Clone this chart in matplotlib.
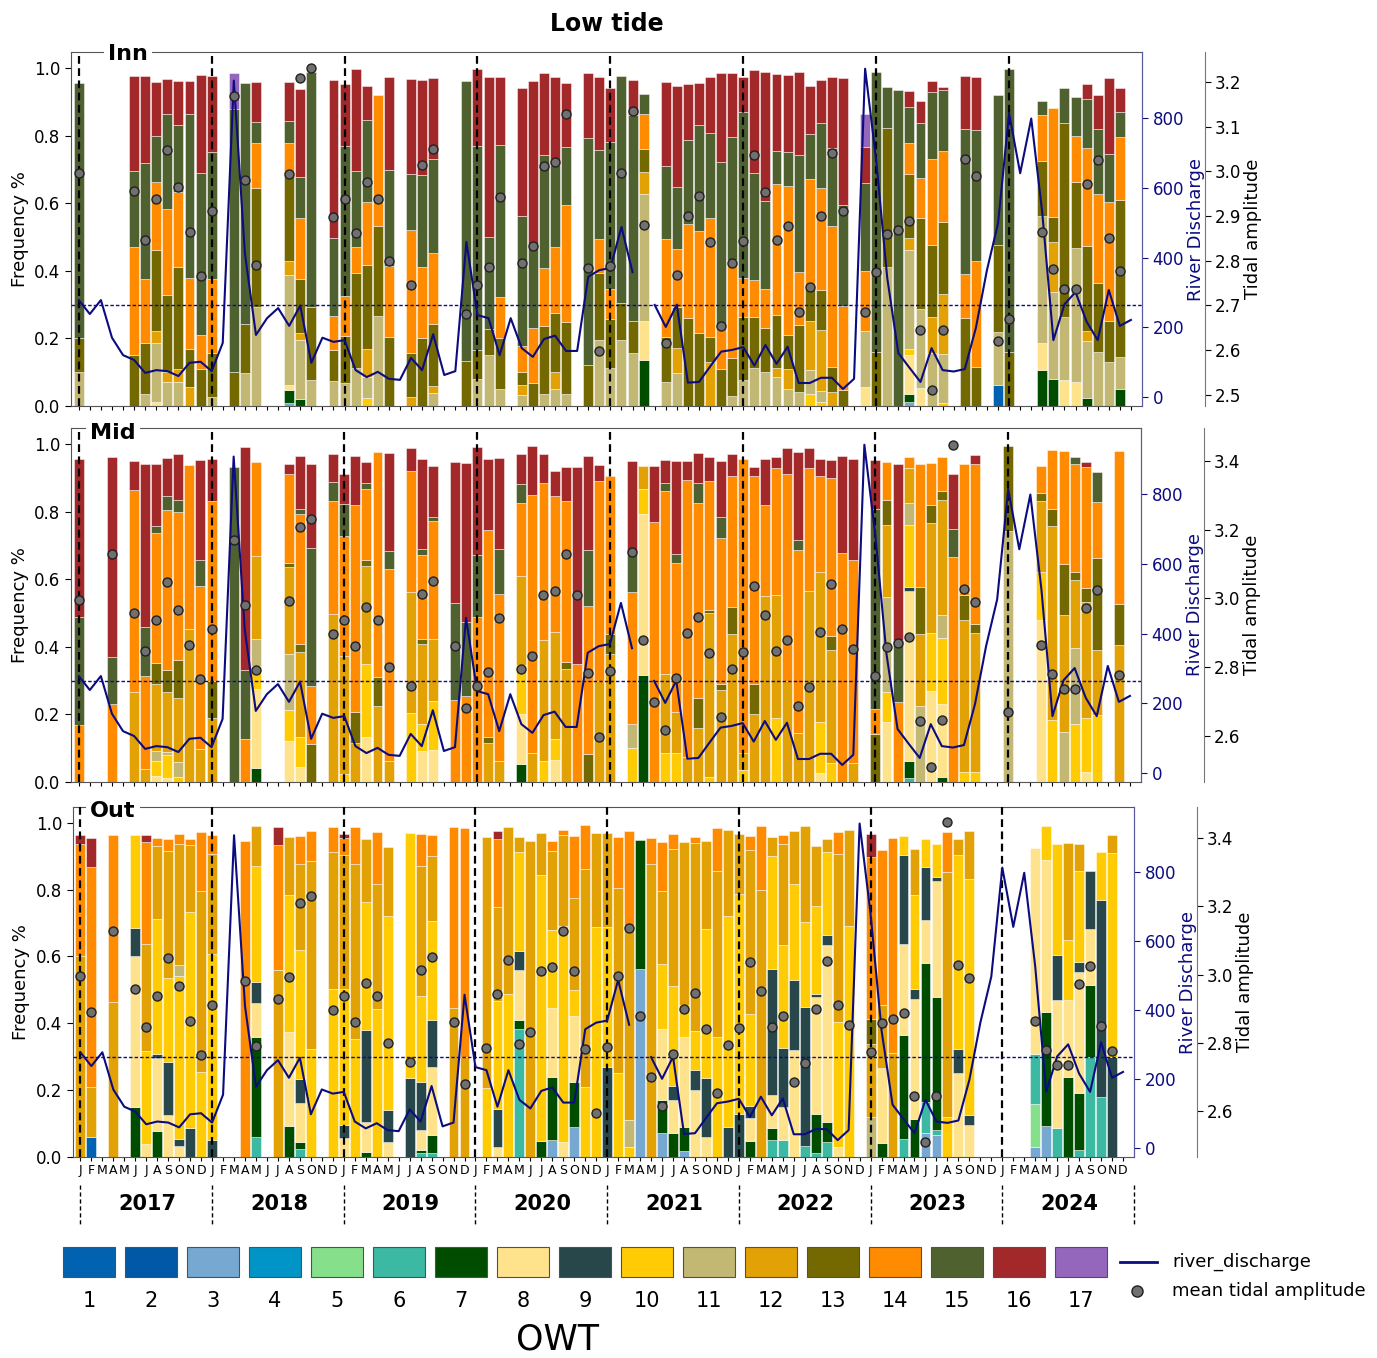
import matplotlib.pyplot as plt
import numpy as np
from matplotlib.patches import Rectangle
from matplotlib.lines import Line2D
from matplotlib.transforms import blended_transform_factory

# --- data -----------------------------------------------------------------
years = [2017, 2018, 2019, 2020, 2021, 2022, 2023, 2024]
month_letters = list('JFMAMJJASOND')
n_months = 96
owt_labels = [str(k) for k in range(1, 18)]
owt_colors = ['#0062B0', '#0058A6', '#76A8D2', '#0095C6', '#86E08B', '#3CB9A2',
              '#004D00', '#FFE38C', '#27474A', '#FFCB05', '#C2B773', '#E2A104',
              '#736900', '#FF8B00', '#506130', '#A3282A', '#9467BD']

nan = np.nan
river_discharge = [278, 238, 278, 170, 120, 106, 69, 77, 74, 60, 98, 101,
                   74, 155, 908, 412, 178, 226, 255, 204, 262, 98, 170, 158,
                   163, 77, 57, 72, 52, 49, 112, 77, 180, 63, 74, 445,
                   235, 226, 120, 226, 140, 115, 166, 176, 132, 132, 345, 364,
                   370, 488, 358, nan, 264, 201, 265, 41, 43, 87, 130, 135,
                   143, 90, 149, 95, 144, 40, 40, 55, 55, 23, 52, 942,
                   679, 341, 126, 84, 43, 140, 77, 73, 80, 198, 364, 498,
                   814, 642, 799, 527, 163, 266, 301, 216, 163, 307, 204, 221]

tidal_amplitude = [2.997, 2.892, nan, 3.129, nan, 2.957, 2.847, 2.938, 3.048, 2.966, 2.864, 2.765,
                   2.912, nan, 3.169, 2.981, 2.791, nan, 2.930, 2.994, 3.208, 3.231, nan, 2.897,
                   2.938, 2.862, 2.976, 2.938, 2.800, nan, 2.745, 3.014, 3.051, nan, 2.862, 2.680,
                   2.746, 2.786, 2.942, 3.042, 2.796, 2.833, 3.011, 3.021, 3.129, 3.010, 2.784, 2.597,
                   2.789, 2.996, 3.136, 2.880, 2.700, 2.617, 2.769, 2.899, 2.945, 2.841, 2.655, 2.795,
                   2.845, 3.037, 2.953, 2.847, 2.878, 2.686, 2.742, 2.901, 3.041, 2.912, 2.853, 2.685,
                   2.774, 2.859, 2.869, 2.888, 2.644, 2.511, 2.645, 3.447, 3.028, 2.990, nan, 2.621,
                   2.669, nan, nan, 2.865, 2.781, 2.736, 2.737, 2.972, 3.026, 2.850, 2.777, nan]

# month index -> {OWT class: frequency}
inn_owt = {
    0: {11: .10, 13: .10, 15: .755},
    5: {13: .15, 14: .32, 15: .225, 16: .28},
    6: {11: .035, 13: .15, 14: .19, 15: .345, 16: .256},
    7: {8: .013, 11: .174, 12: .035, 13: .238, 14: .202, 15: .138, 16: .157},
    8: {11: .072, 12: .03, 13: .225, 14: .257, 15: .279, 16: .105},
    9: {11: .07, 12: .04, 13: .30, 14: .224, 15: .197, 16: .131},
    10: {12: .057, 13: .111, 14: .212, 15: .484, 16: .098},
    11: {13: .108, 14: .102, 15: .48, 16: .289},
    12: {11: .028, 13: .128, 14: .219, 15: .377, 16: .225},
    14: {13: .10, 15: .779, 17: .105},
    15: {11: .097, 13: .146, 15: .712},
    16: {11: .294, 13: .35, 14: .135, 15: .06, 16: .12},
    19: {3: .008, 7: .04, 8: .015, 11: .323, 12: .042, 13: .256, 14: .094, 15: .066, 16: .113},
    20: {7: .02, 11: .175, 12: .022, 13: .158, 14: .18, 15: .121, 16: .262},
    21: {11: .077, 13: .217, 15: .693},
    23: {11: .075, 13: .091, 14: .101, 15: .229, 16: .469},
    24: {11: .069, 13: .139, 14: .117, 15: .444, 16: .184},
    25: {11: .111, 13: .282, 14: .076, 15: .226, 16: .301},
    26: {10: .025, 11: .06, 12: .085, 13: .248, 14: .184, 15: .244, 16: .10},
    27: {11: .266, 13: .267, 14: .387},
    28: {13: .205, 14: .209, 15: .284, 16: .276},
    30: {12: .028, 13: .128, 14: .364, 15: .166, 16: .28},
    31: {13: .20, 14: .21, 15: .273, 16: .28},
    32: {11: .037, 12: .023, 13: .183, 14: .209, 15: .278, 16: .239},
    35: {13: .134, 15: .826},
    36: {11: .079, 13: .087, 15: .603, 16: .227},
    37: {11: .151, 13: .076, 15: .272, 16: .475},
    38: {11: .05, 13: .15, 14: .122, 15: .45, 16: .202},
    40: {11: .033, 12: .029, 13: .04, 14: .074, 15: .387, 16: .379},
    41: {13: .067, 14: .163, 15: .241, 16: .491},
    42: {11: .035, 13: .202, 14: .17, 15: .336, 16: .243},
    43: {11: .05, 12: .05, 13: .174, 14: .195, 15: .244, 16: .261},
    44: {11: .035, 13: .212, 14: .348, 15: .172, 16: .188},
    46: {13: .121, 15: .671, 16: .192},
    47: {11: .195, 13: .197, 14: .102, 15: .263, 16: .217},
    48: {11: .111, 13: .145, 14: .089, 15: .437, 16: .158},
    49: {11: .195, 13: .109, 15: .672},
    50: {11: .158, 13: .092, 15: .611, 16: .104},
    51: {7: .136, 8: .114, 11: .377, 12: .064, 13: .069, 14: .104, 15: .059},
    53: {11: .072, 13: .133, 14: .288, 15: .218, 16: .247},
    54: {11: .097, 12: .074, 13: .123, 14: .17, 15: .185, 16: .296},
    55: {13: .259, 14: .278, 15: .25, 16: .165},
    56: {13: .215, 14: .303, 15: .313, 16: .125},
    57: {12: .13, 13: .075, 14: .35, 15: .253, 16: .164},
    58: {13: .108, 14: .126, 15: .488, 16: .263},
    59: {11: .03, 13: .111, 14: .291, 15: .363, 16: .189},
    60: {11: .077, 13: .187, 14: .114, 15: .493, 16: .103},
    61: {11: .111, 13: .151, 14: .111, 15: .317, 16: .304},
    62: {11: .102, 13: .128, 14: .115, 15: .26, 16: .384},
    63: {11: .085, 12: .026, 13: .158, 14: .387, 15: .099, 16: .227},
    64: {11: .05, 12: .06, 13: .10, 14: .44, 15: .10, 16: .23},
    65: {11: .042, 13: .197, 14: .158, 15: .345, 16: .245},
    66: {10: .035, 11: .071, 12: .146, 13: .096, 14: .322, 15: .133, 16: .144},
    67: {10: .013, 11: .03, 12: .182, 13: .118, 14: .301, 15: .194, 16: .126},
    68: {12: .042, 13: .072, 14: .418, 15: .23, 16: .212},
    69: {13: .047, 14: .25, 15: .297, 16: .375},
    71: {8: .057, 11: .166, 14: .177, 15: .259, 16: .108, 17: .097},
    72: {13: .159, 15: .83},
    73: {11: .412, 13: .409, 15: .122},
    74: {15: .935},
    75: {3: .013, 7: .022, 8: .116, 10: .018, 11: .291, 12: .036, 13: .189, 14: .092, 15: .107, 16: .049},
    76: {8: .052, 11: .234, 13: .269, 14: .119, 15: .164, 16: .064},
    77: {11: .156, 12: .108, 13: .212, 14: .256, 15: .197, 16: .033},
    78: {10: .008, 11: .146, 12: .177, 13: .214, 14: .21, 15: .18, 16: .008},
    80: {13: .26, 14: .13, 15: .43, 16: .155},
    81: {13: .114, 14: .316, 15: .385, 16: .157},
    83: {1: .062, 11: .158, 13: .256, 15: .444},
    84: {13: .159, 15: .837},
    87: {7: .105, 8: .081, 11: .375, 13: .163, 14: .138, 15: .041},
    88: {7: .08, 11: .258, 12: .148, 13: .074, 14: .32},
    89: {8: .077, 11: .187, 13: .572, 15: .104},
    90: {8: .072, 11: .394, 13: .197, 14: .136, 15: .115},
    91: {7: .023, 11: .168, 12: .03, 13: .251, 14: .291, 15: .146, 16: .044},
    92: {11: .161, 13: .204, 14: .262, 15: .191, 16: .102},
    93: {11: .131, 13: .121, 14: .35, 15: .142, 16: .225},
    94: {7: .05, 11: .096, 13: .463, 14: .187, 15: .074, 16: .072},
}

mid_owt = {
    0: {14: .168, 15: .32, 16: .467},
    3: {14: .23, 15: .14, 16: .59},
    5: {12: .266, 14: .597, 16: .085},
    6: {12: .037, 14: .276, 15: .145, 16: .482},
    7: {8: .018, 10: .045, 11: .029, 12: .199, 13: .061, 14: .383, 15: .023, 16: .182},
    8: {8: .011, 10: .069, 11: .01, 12: .177, 13: .064, 14: .474, 15: .042, 16: .111},
    9: {10: .016, 11: .044, 12: .187, 13: .113, 14: .44, 15: .033, 16: .138},
    10: {12: .453, 14: .485},
    11: {12: .099, 14: .48, 15: .078, 16: .295},
    12: {12: .19, 13: .108, 14: .532, 16: .124},
    14: {15: .932},
    15: {14: .126, 15: .206, 16: .659},
    16: {7: .04, 8: .236, 10: .066, 11: .082, 12: .243, 14: .278},
    19: {8: .122, 10: .092, 11: .164, 12: .257, 13: .012, 14: .263, 16: .032},
    20: {8: .043, 10: .091, 12: .25, 13: .023, 14: .387, 15: .013, 16: .158},
    21: {13: .112, 14: .171, 15: .409, 16: .25},
    23: {12: .496, 14: .336, 15: .054, 16: .085},
    24: {10: .024, 12: .348, 14: .357, 15: .093, 16: .09},
    25: {12: .114, 13: .093, 14: .613, 16: .145},
    26: {8: .132, 10: .218, 12: .29, 13: .017, 14: .209, 15: .017, 16: .062},
    27: {12: .224, 13: .087, 14: .666},
    28: {12: .063, 14: .567, 15: .052, 16: .292},
    30: {10: .203, 12: .358, 14: .359, 16: .067},
    31: {8: .092, 10: .079, 12: .236, 13: .017, 14: .246, 15: .02, 16: .265},
    32: {8: .094, 10: .147, 12: .182, 14: .349, 15: .012, 16: .15},
    34: {14: .242, 15: .287, 16: .418},
    35: {14: .254, 15: .22, 16: .47},
    36: {14: .488, 15: .182, 16: .32},
    37: {12: .116, 13: .018, 14: .611, 16: .21},
    38: {12: .063, 14: .492, 15: .134, 16: .269},
    40: {7: .053, 8: .147, 10: .145, 12: .263, 14: .216, 15: .057, 16: .089},
    41: {12: .085, 14: .765, 16: .145},
    42: {10: .063, 12: .356, 14: .464, 16: .087},
    43: {8: .065, 10: .061, 12: .319, 14: .402, 16: .073},
    44: {12: .335, 13: .02, 14: .475, 16: .102},
    45: {14: .348, 16: .584},
    46: {13: .082, 14: .44, 15: .164, 16: .279},
    47: {12: .30, 14: .59, 16: .047},
    48: {12: .38, 13: .059, 14: .467},
    50: {10: .10, 11: .072, 14: .39, 15: .118, 16: .27},
    51: {7: .316, 8: .477, 10: .074, 12: .069},
    52: {14: .769, 16: .165},
    53: {10: .085, 12: .235, 14: .54, 15: .024, 16: .067},
    54: {10: .085, 12: .122, 14: .44, 15: .026, 16: .277},
    55: {12: .075, 14: .818, 16: .057},
    56: {12: .16, 13: .088, 14: .576, 15: .059, 16: .091},
    57: {10: .016, 12: .484, 13: .01, 14: .381, 16: .071},
    58: {12: .273, 13: .018, 14: .43, 15: .063, 16: .165},
    59: {12: .439, 13: .079, 14: .387, 16: .066},
    60: {10: .035, 12: .05, 14: .87},
    61: {12: .2, 13: .09, 14: .615, 16: .027},
    62: {12: .551, 14: .269, 16: .135},
    63: {10: .188, 12: .364, 14: .377, 16: .033},
    64: {12: .30, 14: .61, 16: .077},
    65: {12: .146, 14: .539, 15: .031, 16: .259},
    66: {12: .566, 14: .362, 16: .061},
    67: {8: .026, 10: .152, 12: .442, 14: .285, 16: .049},
    68: {10: .055, 12: .336, 13: .042, 14: .467, 16: .051},
    69: {14: .676, 16: .289},
    70: {12: .057, 14: .60, 16: .297},
    72: {13: .142, 14: .073, 15: .593, 16: .145},
    73: {8: .178, 10: .088, 11: .282, 12: .212, 13: .073, 14: .114},
    74: {14: .237, 15: .184, 16: .521},
    75: {6: .011, 7: .052, 8: .501, 9: .012, 10: .185, 11: .063, 12: .104, 14: .033},
    76: {11: .224, 12: .214, 13: .138, 14: .364},
    77: {8: .269, 10: .171, 12: .327, 13: .051, 14: .126},
    78: {7: .014, 8: .216, 10: .197, 11: .066, 12: .341, 13: .026, 14: .10},
    79: {14: .665, 15: .084, 16: .162},
    80: {10: .03, 12: .45, 13: .072, 14: .39},
    81: {10: .03, 12: .411, 13: .026, 14: .474, 16: .025},
    84: {11: .743, 13: .251},
    87: {8: .478, 10: .142, 12: .212, 13: .024, 14: .079},
    88: {10: .183, 12: .575, 13: .049, 14: .174},
    89: {11: .148, 12: .346, 13: .15, 14: .336},
    90: {10: .173, 11: .223, 12: .202, 13: .023, 14: .32, 15: .02},
    91: {8: .03, 10: .16, 12: .341, 13: .042, 14: .358, 16: .016},
    92: {10: .198, 12: .192, 13: .273, 14: .164, 15: .089},
    94: {12: .404, 13: .123, 14: .451},
}

out_owt = {
    0: {12: .60, 14: .336, 16: .028},
    1: {1: .061, 12: .149, 14: .657, 16: .086},
    3: {12: .464, 14: .499},
    5: {7: .15, 8: .45, 9: .086, 10: .277},
    6: {8: .039, 10: .278, 12: .321, 14: .303, 16: .022},
    7: {7: .079, 8: .218, 9: .012, 10: .403, 12: .219, 14: .023},
    8: {8: .125, 9: .16, 10: .25, 12: .38, 14: .035},
    9: {8: .034, 9: .019, 10: .487, 11: .033, 12: .363, 14: .03},
    10: {9: .086, 10: .647, 12: .20, 14: .018},
    11: {10: .255, 12: .54, 14: .176},
    12: {9: .051, 10: .557, 12: .297, 14: .057},
    15: {14: .944},
    16: {6: .061, 7: .299, 8: .102, 9: .062, 10: .348, 12: .117},
    18: {12: .56, 14: .374, 16: .053},
    19: {7: .093, 8: .28, 10: .41, 12: .173},
    20: {6: .023, 7: .023, 8: .116, 9: .07, 10: .386, 12: .259, 14: .084},
    21: {10: .324, 12: .56, 14: .09},
    23: {10: .503, 12: .408, 14: .077},
    24: {8: .056, 9: .04, 10: .408, 12: .40, 14: .05, 16: .012},
    25: {10: .354, 12: .523, 14: .11},
    26: {7: .016, 8: .09, 9: .274, 10: .383, 12: .189},
    27: {10: .444, 12: .373, 14: .154},
    28: {8: .046, 9: .095, 10: .58, 12: .207},
    30: {9: .235, 10: .735},
    31: {6: .011, 7: .01, 8: .06, 9: .144, 10: .256, 12: .39, 14: .095},
    32: {6: .013, 7: .053, 8: .204, 9: .141, 10: .294, 12: .196, 14: .063},
    34: {12: .447, 14: .539},
    35: {12: .30, 14: .684},
    37: {10: .205, 12: .753},
    38: {8: .029, 9: .116, 10: .322, 12: .282, 14: .202, 16: .023},
    39: {10: .487, 12: .501},
    40: {6: .384, 7: .025, 8: .149, 9: .058, 10: .296, 12: .045},
    41: {12: .946},
    42: {7: .049, 10: .796, 12: .123},
    43: {3: .051, 7: .189, 8: .207, 10: .233, 12: .234, 14: .03},
    44: {8: .046, 10: .644, 12: .272, 14: .017},
    45: {3: .089, 7: .136, 8: .196, 10: .078, 12: .276, 14: .186},
    46: {10: .208, 12: .653, 14: .133},
    47: {10: .688, 12: .281},
    48: {9: .268, 10: .42, 12: .28},
    49: {10: .25, 12: .555, 14: .153},
    50: {10: .031, 11: .08, 12: .582, 14: .282},
    51: {3: .563, 7: .385},
    52: {12: .877, 14: .078},
    53: {3: .071, 7: .099, 8: .214, 10: .192, 12: .221, 14: .144},
    54: {7: .071, 8: .10, 9: .04, 10: .30, 12: .41, 14: .045},
    55: {3: .019, 7: .07, 8: .27, 10: .095, 12: .487},
    56: {8: .20, 9: .061, 10: .115, 12: .564, 14: .016},
    57: {8: .059, 9: .176, 10: .448, 12: .262},
    58: {10: .359, 12: .498, 14: .127},
    59: {9: .09, 10: .631, 12: .256},
    60: {9: .13, 10: .657, 12: .179},
    61: {7: .049, 8: .067, 9: .037, 10: .275, 12: .49, 14: .042},
    62: {12: .80, 14: .19},
    63: {6: .051, 7: .035, 8: .10, 9: .375, 10: .339, 12: .058},
    64: {6: .051, 8: .10, 9: .174, 10: .31, 12: .30, 14: .027},
    65: {8: .32, 9: .208, 10: .29, 12: .158},
    66: {6: .033, 9: .416, 10: .253, 12: .289},
    67: {6: .013, 7: .117, 8: .348, 9: .01, 10: .264, 12: .179},
    68: {6: .046, 7: .06, 8: .527, 9: .03, 10: .249, 12: .04},
    69: {8: .029, 10: .374, 12: .503, 14: .065},
    70: {10: .69, 12: .289},
    72: {11: .12, 12: .219, 13: .075, 14: .482, 16: .07},
    73: {7: .041, 8: .224, 12: .19, 14: .462},
    74: {12: .31, 14: .644},
    75: {6: .053, 7: .311, 8: .272, 9: .266, 10: .057},
    76: {7: .115, 8: .358, 9: .03, 10: .282, 12: .136},
    77: {3: .071, 6: .095, 7: .413, 8: .129, 9: .161, 10: .083},
    78: {3: .066, 6: .015, 7: .398, 8: .348, 9: .012, 10: .098},
    79: {10: .12, 12: .732, 14: .12},
    80: {8: .252, 9: .07, 10: .58, 12: .05},
    81: {8: .096, 9: .03, 10: .705, 12: .145},
    87: {3: .029, 5: .131, 6: .149, 8: .615},
    88: {3: .093, 7: .341, 8: .455, 10: .102},
    89: {6: .086, 8: .385, 9: .132, 10: .333},
    90: {7: .24, 8: .23, 10: .18, 12: .288},
    91: {6: .021, 7: .169, 8: .363, 9: .03, 10: .272, 12: .082},
    92: {6: .298, 7: .216, 8: .169, 9: .172},
    93: {6: .18, 9: .589, 10: .142},
    94: {9: .298, 10: .611, 12: .053},
}


def to_matrix(comp):
    m = np.zeros((17, n_months))
    for month, parts in comp.items():
        for cls, val in parts.items():
            m[cls - 1, month] = val
    return m


# --- figure ---------------------------------------------------------------
W, H = 1377, 1358
fig = plt.figure(figsize=(W / 100, H / 100), dpi=100)


def box(l, t, r, b):
    return [l / W, 1 - b / H, (r - l) / W, (b - t) / H]


navy = '#0c0c80'
panels = [
    ('Inn', inn_owt, box(71, 52, 1142, 406), (2.475, 3.267), np.arange(2.5, 3.25, 0.1), 0.053, 0.995),
    ('Mid', mid_owt, box(71, 428, 1141, 782), (2.466, 3.496), np.arange(2.6, 3.45, 0.2), 0.039, 0.985),
    ('Out', out_owt, box(72.7, 807, 1134, 1157), (2.467, 3.49), np.arange(2.6, 3.45, 0.2), 0.038, 0.988),
]

x = np.arange(n_months)
q = np.array(river_discharge, dtype=float)
tide = np.array(tidal_amplitude, dtype=float)

for name, comp, rect, tlim, tticks, lx, ly in panels:
    ax = fig.add_axes(rect)
    m = to_matrix(comp)
    bottom = np.zeros(n_months)
    for c in range(17):
        sel = m[c] > 0
        if sel.any():
            ax.bar(x[sel], m[c][sel], bottom=bottom[sel], width=0.9,
                   color=owt_colors[c], edgecolor=(1, 1, 1, 0.55), linewidth=0.6, zorder=2)
        bottom += m[c]
    has_bar = bottom > 0

    for k in range(8):
        ax.axvline(12 * k, color='black', ls=(0, (3.5, 2)), lw=1.6, zorder=4)
    ax.axhline(0.3, color=navy, ls=(0, (2.5, 1.5)), lw=1.0, zorder=4)

    ax.set_xlim(-0.7, 96.0)
    ax.set_ylim(0, 1.047)
    ax.set_yticks([0, 0.2, 0.4, 0.6, 0.8, 1.0])
    ax.set_yticklabels(['0.0', '0.2', '0.4', '0.6', '0.8', '1.0'])
    ax.tick_params(axis='y', labelsize=12, length=4)
    ax.set_ylabel('Frequency %', fontsize=13)
    ax.set_xticks(x)
    if name == 'Out':
        ax.set_xticklabels(month_letters * 8, fontsize=9)
        ax.tick_params(axis='x', length=3, pad=2)
        tr = blended_transform_factory(ax.transData, ax.transAxes)
        for k, yr in enumerate(years):
            ax.text(12 * k + 6.1, -0.135, str(yr), transform=tr, ha='center', va='center',
                    fontsize=15, fontweight='bold')
        for k in range(9):
            ax.plot([12 * k, 12 * k], [-0.08, -0.19], transform=tr, color='black',
                    ls=(0, (3, 2)), lw=1, clip_on=False)
    else:
        ax.set_xticklabels([])
        ax.tick_params(axis='x', length=3)
    for sp in ax.spines.values():
        sp.set_color('#555555')
    ax.text(lx, ly, name, transform=ax.transAxes, ha='center', va='center', fontsize=16,
            fontweight='bold', zorder=10,
            bbox=dict(facecolor='white', edgecolor='none', pad=3))

    # river discharge axis
    ax2 = ax.twinx()
    ax2.plot(x, q, color=navy, lw=1.5)
    ax2.set_ylim(-26, 990)
    ax2.set_yticks([0, 200, 400, 600, 800])
    ax2.tick_params(axis='y', colors=navy, labelsize=12, length=4)
    ax2.set_ylabel('River Discharge', color=navy, fontsize=13, labelpad=2)
    ax2.spines['right'].set_color('#5a5aa0')
    for s in ('top', 'left', 'bottom'):
        ax2.spines[s].set_visible(False)

    # tidal amplitude axis
    ax3 = ax.twinx()
    ax3.spines['right'].set_position(('outward', 45))
    ax3.spines['right'].set_color('#777777')
    for s in ('top', 'left', 'bottom'):
        ax3.spines[s].set_visible(False)
    mk = has_bar & ~np.isnan(tide)
    ax3.scatter(x[mk], tide[mk], s=42, c='#707070', edgecolors='#202020',
                linewidths=1.0, zorder=6, clip_on=False)
    ax3.set_ylim(*tlim)
    ax3.set_yticks(tticks)
    ax3.set_yticklabels([f'{t:.1f}' for t in tticks])
    ax3.tick_params(axis='y', labelsize=12, length=4)
    ax3.set_ylabel('Tidal amplitude', fontsize=13, labelpad=2)

fig.text(607 / W, 1 - 24 / H, 'Low tide', ha='center', va='center',
         fontsize=17, fontweight='bold')

# --- OWT legend -----------------------------------------------------------
lg = fig.add_axes([0, 0, 1, 140 / H])
lg.set_xlim(0, W)
lg.set_ylim(H, H - 140)
lg.axis('off')
for k in range(17):
    x0 = 63 + 62 * k
    lg.add_patch(Rectangle((x0, 1247), 52, 30, facecolor=owt_colors[k],
                           edgecolor='#505050', lw=0.8))
    lg.text(x0 + 26, 1301, owt_labels[k], ha='center', va='center', fontsize=15)
lg.text(557, 1340, 'OWT', ha='center', va='center', fontsize=25)
lg.add_line(Line2D([1120, 1157], [1262, 1262], color=navy, lw=2))
lg.text(1172, 1262, 'river_discharge', ha='left', va='center', fontsize=13)
lg.plot([1137], [1291], 'o', ms=8, color='#707070', mec='#202020')
lg.text(1172, 1291, 'mean tidal amplitude', ha='left', va='center', fontsize=13)

fig.savefig('out.png', dpi=100)
